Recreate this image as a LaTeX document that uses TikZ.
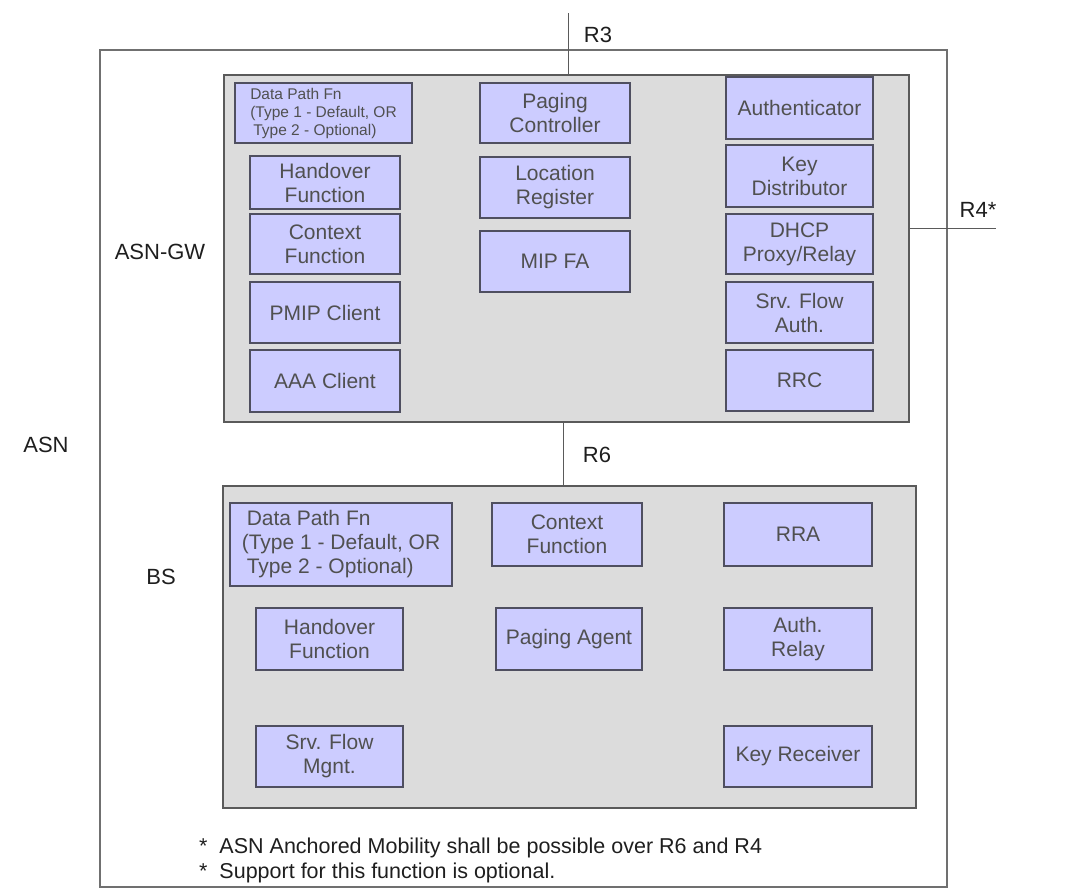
\documentclass[tikz,border=0pt]{standalone}
\usepackage{fontspec}
\setmainfont{Liberation Sans}
\usetikzlibrary{calc,positioning}
\definecolor{asnLavender}{HTML}{CCCCFF}
\definecolor{asnGrey}{HTML}{DCDCDC}
\definecolor{asnEdge}{HTML}{4F4F60}
\definecolor{asnFrame}{HTML}{5A5A5A}
\definecolor{asnOuter}{HTML}{707070}
\definecolor{asnInk}{HTML}{1E1E1E}
\definecolor{asnText}{HTML}{505050}

\begin{document}
\begin{tikzpicture}[x=1pt,y=-1pt,
  fn/.style={draw=asnEdge,fill=asnLavender,line width=1.6pt,minimum width=150pt,minimum height=61pt,inner sep=0pt,align=center,text=asnText,font=\fontsize{21}{24}\selectfont},
  fnpath/.style={fn,align=left},
  unit/.style={draw=asnFrame,fill=asnGrey,line width=1.6pt,inner sep=0pt},
  lbl/.style={text=asnInk,font=\fontsize{22}{26}\selectfont},
  note/.style={text=asnInk,font=\fontsize{21.5}{26}\selectfont,anchor=base west,inner sep=0pt},
  link/.style={draw=asnFrame,line width=1pt}
]
  \useasboundingbox (0,0) rectangle (1077,889);
  % frames
  \node[draw=asnOuter,line width=1.8pt,minimum width=847pt,minimum height=837pt,inner sep=0pt] (asn) at (523.5,468.5) {};
  \node[unit,minimum width=685pt,minimum height=347pt] (gw) at (566.5,248.5) {};
  \node[unit,minimum width=693pt,minimum height=322pt] (bs) at (569.5,647) {};
  \node[lbl] (asnlbl) at (46,445) {ASN};
  \node[lbl] (gwlbl) at (160,252) {ASN-GW};
  \node[lbl] (bslbl) at (161,577) {BS};
  % reference points
  \coordinate (r3top) at (568,13);
  \coordinate (r4end) at (996,228);
  \coordinate (r6x) at (563,450);
  \draw[link] (r3top) -- (r3top |- gw.north);
  \draw[link] (r4end -| gw.east) -- (r4end);
  \draw[link] (r6x |- gw.south) -- (r6x |- bs.north);
  \node[lbl] (r3lbl) at (598,35) {R3};
  \node[lbl] (r4lbl) at (978,210) {R4*};
  \node[lbl] (r6lbl) at (597,455) {R6};
  % ASN-GW functions
  \node[fnpath,minimum width=177pt,minimum height=60pt,font=\fontsize{15.5}{18}\selectfont] (gwpath) at (323.5,113) {Data Path Fn\\(Type 1 - Default, OR\\\hspace*{3pt}Type 2 - Optional)};
  \node[fn,minimum height=53pt] (gwho) at (325,182.5) {Handover\\Function};
  \node[fn,minimum height=60pt] (gwctx) at (325,244) {Context\\Function};
  \node[fn] (pmip) at (325,312.5) {PMIP Client};
  \node[fn,minimum height=62pt] (aaa) at (325,381) {AAA Client};
  \node[fn,minimum height=60pt] (pagc) at (555,113) {Paging\\Controller};
  \node[fn] (locreg) at (555,187.5) {Location\\Register};
  \node[fn] (mipfa) at (555,261.5) {MIP FA};
  \node[fn,minimum width=147pt,minimum height=62pt] (authr) at (799.5,108) {Authenticator};
  \node[fn,minimum width=147pt,minimum height=62pt] (keydist) at (799.5,176) {Key\\Distributor};
  \node[fn,minimum width=147pt,minimum height=60pt] (dhcp) at (799.5,244) {DHCP\\Proxy/Relay};
  \node[fn,minimum width=147pt] (sfauth) at (799.5,312.5) {Srv. Flow\\Auth.};
  \node[fn,minimum width=147pt] (rrc) at (799.5,380.5) {RRC};
  % BS functions
  \node[fnpath,minimum width=222pt,minimum height=83pt] (bspath) at (341,544.5) {\hspace*{5pt}Data Path Fn\\(Type 1 - Default, OR\\\hspace*{5pt}Type 2 - Optional)};
  \node[fn,minimum height=63pt] (bsctx) at (567,534.5) {Context\\Function};
  \node[fn,minimum width=148pt,minimum height=63pt] (rra) at (798,534.5) {RRA};
  \node[fn,minimum width=147pt,minimum height=62pt] (bsho) at (329.5,639) {Handover\\Function};
  \node[fn,minimum width=146pt,minimum height=62pt] (paga) at (569,639) {Paging Agent};
  \node[fn,minimum width=148pt,minimum height=62pt] (authrel) at (798,639) {Auth.\\Relay};
  \node[fn,minimum width=147pt] (sfmgnt) at (329.5,756.5) {Srv. Flow\\Mgnt.};
  \node[fn,minimum width=148pt] (keyrecv) at (798,756.5) {Key Receiver};
  % notes
  \node[note] (note1) at (199,853) {*\ \ ASN Anchored Mobility shall be possible over R6 and R4};
  \node[note] (note2) at (199,878) {*\ \ Support for this function is optional.};
\end{tikzpicture}
\end{document}
